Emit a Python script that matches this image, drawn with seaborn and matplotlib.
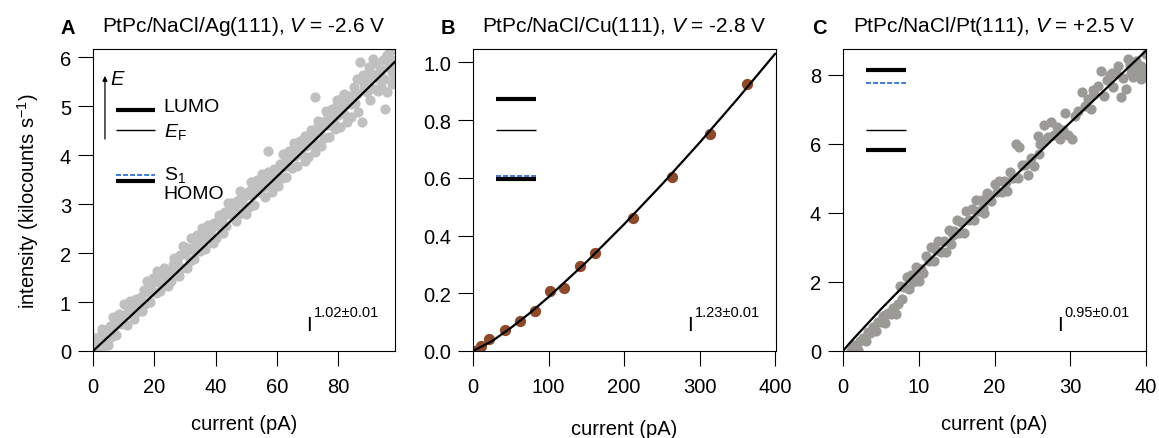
import matplotlib
matplotlib.use("Agg")
import matplotlib.pyplot as plt
import seaborn as sns
import pandas as pd

# ---------------- data ----------------
# Panel A : PtPc/NaCl/Ag(111)
current_A = [
    0.5, 1, 1.5, 2, 2.5, 3, 3, 3.5, 4, 4.5,
    5, 5.5, 6, 6.5, 7, 7.5, 8, 8.5, 9, 9.5,
    10, 10.5, 11, 11.5, 12, 12.5, 13, 13.5, 14, 14.5,
    15, 15.5, 16, 16.5, 17, 17.5, 18, 18.5, 19, 19.5,
    20, 20.5, 21, 21.5, 22, 22.5, 23, 23.5, 24, 24.5,
    25, 25.5, 26, 26.5, 27, 27.5, 28, 28.5, 29, 29.5,
    30, 30.5, 31, 31.5, 32, 32.5, 33, 33.5, 34, 34.5,
    35, 35.5, 36, 36.5, 37, 37.5, 38, 38.5, 39, 39.5,
    40, 40.5, 41, 41.5, 42, 42.5, 43, 43.5, 44, 44.5,
    45, 45.5, 46, 46.5, 47, 47.5, 48, 48.5, 49, 49.5,
    50, 50.5, 51, 51.5, 52, 52.5, 53, 53.5, 54, 54.5,
    55, 55.5, 56, 56.5, 57, 57.2, 57.5, 58, 58.5, 59,
    59.5, 60, 60.5, 61, 61.5, 62, 62.5, 63, 63.5, 64,
    64.5, 65, 65.5, 66, 66.5, 67, 67.5, 68, 68.5, 69,
    69.5, 70, 70.5, 71, 71.5, 72, 72.4, 72.5, 73, 73.5,
    74, 74.5, 75, 75.5, 76, 76.5, 77, 77.5, 78, 78.5,
    79, 79.5, 80, 80.5, 81, 81.5, 82, 82.5, 83, 83.5,
    84, 84.5, 85, 85.5, 86, 86.5, 87.1, 87.6, 88, 88.5,
    89, 89.5, 90, 90.5, 91, 91.4, 92, 92.5, 93, 93.5,
    94, 94.5, 95, 95.2, 95.5, 96, 96.5, 96.9, 97, 97.5,
    98, 98.3,
    82, 84, 86, 88.5, 90, 92, 94, 96, 97.5, 98.5,
    63, 66, 69, 73.5, 76.5, 79.5, 62, 45, 48, 52,
]
intensity_A = [
    0.26, 0.07, 0.20, 0.00, 0.32, 0.11, 0.45, 0.28, 0.13, 0.40,
    0.13, 0.52, 0.28, 0.69, 0.49, 0.32, 0.62, 0.76, 0.55, 0.69,
    0.96, 0.73, 0.54, 0.87, 1.02, 0.78, 0.94, 0.65, 1.07, 0.80,
    0.95, 1.11, 0.82, 1.24, 0.97, 1.43, 1.20, 1.01, 1.34, 1.49,
    1.45, 1.18, 1.64, 1.41, 1.22, 1.55, 1.70, 1.46, 1.62, 1.33,
    1.62, 1.43, 1.76, 1.91, 1.67, 1.83, 1.54, 1.96, 1.69, 2.15,
    1.98, 1.69, 2.11, 1.84, 2.30, 2.07, 1.88, 2.21, 2.36, 2.12,
    2.05, 2.51, 2.28, 2.09, 2.42, 2.57, 2.33, 2.49, 2.20, 2.62,
    2.30, 2.63, 2.78, 2.54, 2.70, 2.41, 2.83, 2.56, 3.02, 2.79,
    3.02, 2.78, 2.94, 2.65, 3.07, 2.80, 3.26, 3.03, 2.84, 3.17,
    2.79, 3.25, 2.95, 3.45, 3.19, 2.98, 3.34, 3.50, 3.24, 3.41,
    3.61, 3.35, 3.14, 3.50, 3.66, 4.09, 3.40, 3.57, 3.25, 3.71,
    3.52, 3.69, 3.37, 3.83, 3.53, 4.03, 3.77, 3.56, 3.92, 4.08,
    4.04, 3.74, 4.24, 3.98, 3.77, 4.13, 4.29, 4.03, 4.20, 3.88,
    4.19, 3.96, 4.35, 4.52, 4.23, 4.42, 5.18, 4.06, 4.56, 4.23,
    4.54, 4.18, 4.68, 4.35, 4.90, 4.61, 4.38, 4.77, 4.94, 4.65,
    4.54, 5.13, 4.83, 4.57, 4.99, 5.18, 4.85, 5.05, 4.67, 5.21,
    4.78, 5.20, 5.39, 5.06, 5.26, 4.88, 5.90, 4.67, 5.64, 5.34,
    5.63, 5.30, 5.50, 5.12, 5.66, 5.97, 5.88, 5.58, 5.32, 5.74,
    5.40, 5.95, 5.55, 4.94, 6.00, 5.30, 5.80, 6.13, 5.95, 5.45,
    5.85, 5.60,
    5.25, 5.05, 5.55, 5.45, 5.80, 5.35, 5.75, 6.05, 5.70, 5.95,
    3.95, 4.15, 4.40, 4.70, 4.80, 5.00, 3.75, 2.95, 3.10, 3.30,
]
fit_A_x = [0, 10, 25, 50, 75, 98.5]
fit_A_y = [0, 0.58, 1.46, 2.96, 4.47, 5.91]

# Panel B : PtPc/NaCl/Cu(111)
current_B = [2, 11, 21, 42, 62, 82, 102, 121, 142, 162, 212, 263, 313, 362]
intensity_B = [0.0, 0.017, 0.043, 0.072, 0.104, 0.138, 0.208, 0.218,
               0.296, 0.340, 0.461, 0.602, 0.752, 0.925]
fit_B_x = [0, 25, 50, 75, 100, 150, 200, 250, 300, 350, 400]
fit_B_y = [0, 0.034, 0.080, 0.131, 0.187, 0.308, 0.439, 0.577, 0.722, 0.873, 1.03]

# Panel C : PtPc/NaCl/Pt(111)
current_C = [
    1.0, 1.2, 1.5, 2.0, 2.3, 2.6, 3.0, 3.3, 3.6, 4.0,
    4.3, 4.6, 5.0, 5.3, 5.6, 6.0, 6.3, 6.6, 7.0, 7.3,
    7.5, 7.8, 8.1, 8.5, 8.7, 9.0, 9.2, 9.6, 10.0, 10.3,
    10.6, 11.0, 11.3, 11.6, 12.0, 12.3, 12.6, 13.0, 13.3, 13.6,
    14.0, 14.3, 14.6, 15.0, 15.3, 15.6, 16.0, 16.3, 16.6, 17.0,
    17.3, 17.6, 18.0, 18.3, 18.6, 19.0, 19.3, 19.6, 20.0, 20.3,
    20.6, 21.0, 21.3, 21.6, 22.0, 22.4, 22.9, 23.1, 23.3, 23.6,
    24.0, 24.4, 24.8, 25.2, 25.7, 25.9, 26.3, 26.6, 27.0, 27.5,
    27.8, 28.2, 28.6, 29.0, 29.3, 29.7, 30.2, 30.6, 31.0, 31.5,
    31.9, 32.3, 32.7, 33.1, 33.6, 34.1, 34.4, 34.8, 35.2, 35.6,
    36.0, 36.3, 36.7, 37.0, 37.6, 37.4, 37.9, 38.3, 38.7, 39.0,
    39.4, 39.4, 39.7, 40.0,
    5.5, 9.5, 14.5, 18.5, 21.5, 26.0, 28.5, 33.0, 35.5, 38.0,
]
intensity_C = [
    0.00, 0.06, 0.18, 0.04, 0.30, 0.37, 0.30, 0.55, 0.53, 0.70,
    0.59, 0.85, 0.84, 1.00, 0.82, 1.10, 1.07, 1.25, 1.07, 1.35,
    1.89, 1.50, 1.86, 2.15, 1.79, 2.21, 2.00, 2.44, 2.03, 2.39,
    2.26, 2.74, 2.61, 3.02, 2.61, 2.93, 3.19, 2.88, 3.19, 2.86,
    3.50, 3.11, 3.48, 3.81, 3.43, 3.74, 3.43, 4.05, 3.81, 4.10,
    3.81, 4.38, 4.07, 4.38, 4.00, 4.58, 4.50, 4.36, 4.85, 4.62,
    4.93, 4.62, 4.93, 4.65, 5.19, 5.02, 6.00, 5.02, 5.90, 5.38,
    5.40, 5.10, 5.60, 5.35, 6.24, 5.70, 6.05, 6.55, 6.20, 6.63,
    6.25, 6.50, 6.15, 6.40, 6.90, 6.25, 6.14, 6.80, 6.95, 7.50,
    7.10, 7.30, 7.00, 7.45, 7.69, 8.10, 7.40, 7.85, 8.00, 7.65,
    8.05, 8.27, 7.35, 7.90, 8.46, 7.60, 8.30, 7.95, 8.40, 8.15,
    7.88, 8.27, 8.12, 8.60,
    1.05, 2.20, 3.35, 4.15, 4.90, 6.00, 6.35, 7.55, 8.05, 8.05,
]
fit_C_x = [0, 1, 5, 10, 20, 30, 40]
fit_C_y = [0, 0.26, 1.21, 2.33, 4.50, 6.62, 8.70]

# energy level diagrams (in data units of each panel): LUMO, E_F, S1, HOMO
level_names = ["LUMO", "EF", "S1", "HOMO"]
levels_A = [4.93, 4.52, 3.60, 3.48]
levels_B = [0.872, 0.767, 0.607, 0.596]
levels_C = [8.15, 6.41, 7.76, 5.83]

titles = [r"PtPc/NaCl/Ag(111), $V$ = -2.6 V",
          r"PtPc/NaCl/Cu(111), $V$ = -2.8 V",
          r"PtPc/NaCl/Pt(111), $V$ = +2.5 V"]
panel_letters = ["A", "B", "C"]
exponents = ["1.02±0.01", "1.23±0.01", "0.95±0.01"]

# ---------------- style ----------------
sns.set_style("ticks")
plt.rcParams['font.family'] = ['Liberation Sans', 'DejaVu Sans']
plt.rcParams['mathtext.fontset'] = 'custom'
plt.rcParams['mathtext.rm'] = 'Liberation Sans'
plt.rcParams['mathtext.it'] = 'Liberation Sans:italic'
plt.rcParams['mathtext.bf'] = 'Liberation Sans:bold'
plt.rcParams['axes.unicode_minus'] = True
for key in ['text.color', 'axes.labelcolor', 'xtick.color', 'ytick.color',
            'axes.edgecolor']:
    plt.rcParams[key] = 'black'

W, H = 1159, 439
fig = plt.figure(figsize=(W / 100, H / 100), dpi=100)


def rect(l, r, t=50, b=352):
    return [l / W, 1 - b / H, (r - l) / W, (b - t) / H]


axA = fig.add_axes(rect(93, 395))
axB = fig.add_axes(rect(473, 776))
axC = fig.add_axes(rect(843, 1146))
axes = [axA, axB, axC]

dfA = pd.DataFrame({"current": current_A, "intensity": intensity_A})
dfB = pd.DataFrame({"current": current_B, "intensity": intensity_B})
dfC = pd.DataFrame({"current": current_C, "intensity": intensity_C})

sns.scatterplot(data=dfA, x="current", y="intensity", ax=axA, color="#C0C0C0",
                s=54, linewidth=0, zorder=2)
sns.scatterplot(data=dfB, x="current", y="intensity", ax=axB, color="#8C4A2B",
                s=66, linewidth=0, zorder=2)
sns.scatterplot(data=dfC, x="current", y="intensity", ax=axC, color="#9B9A96",
                s=54, linewidth=0, zorder=2)

for ax, fx, fy in [(axA, fit_A_x, fit_A_y), (axB, fit_B_x, fit_B_y), (axC, fit_C_x, fit_C_y)]:
    sns.lineplot(x=fx, y=fy, ax=ax, color="black", linewidth=1.6, sort=False,
                 estimator=None, zorder=3)

# limits and ticks
axA.set_xlim(0, 98.5); axA.set_ylim(0, 6.17)
axA.set_xticks([0, 20, 40, 60, 80]); axA.set_yticks([0, 1, 2, 3, 4, 5, 6])
axB.set_xlim(0, 401); axB.set_ylim(0, 1.046)
axB.set_xticks([0, 100, 200, 300, 400]); axB.set_yticks([0, 0.2, 0.4, 0.6, 0.8, 1.0])
axB.set_yticklabels(["0.0", "0.2", "0.4", "0.6", "0.8", "1.0"])
axC.set_xlim(0, 40); axC.set_ylim(0, 8.75)
axC.set_xticks([0, 10, 20, 30, 40]); axC.set_yticks([0, 2, 4, 6, 8])

xlabel_y = [-0.207, -0.225, -0.207]
for i, ax in enumerate(axes):
    for sp in ax.spines.values():
        sp.set_visible(True)
        sp.set_linewidth(0.8)
        sp.set_color("black")
    ax.tick_params(axis="both", direction="out", length=10.8, width=0.8,
                   colors="black", labelsize=14.5)
    ax.tick_params(axis="x", pad=8)
    ax.tick_params(axis="y", pad=5)
    ax.set_xlabel("current (pA)", fontsize=14.5)
    ax.xaxis.set_label_coords(0.5, xlabel_y[i])
    ax.xaxis.label.set_va("top")
    ax.set_ylabel("")
    ax.set_title(titles[i], fontsize=15, pad=13)
    ax.text(0.706, 0.0695, "I", transform=ax.transAxes, fontsize=15,
            ha="left", va="baseline")
    ax.text(0.731, 0.117, exponents[i], transform=ax.transAxes, fontsize=10.5,
            ha="left", va="baseline")

axA.set_ylabel("intensity (kilocounts s$^{-1}$)", fontsize=14.5)
axA.yaxis.set_label_coords(-0.172, 0.5)

# panel letters
for letter, xpx in zip(panel_letters, [67.5, 448, 819]):
    fig.text(xpx / W, 1 - 28 / H, letter, fontsize=14.5, fontweight="bold",
             ha="center", va="center")

# energy level diagrams
level_style = {
    "LUMO": dict(color="black", lw=3.0, solid_capstyle="butt"),
    "HOMO": dict(color="black", lw=3.0, solid_capstyle="butt"),
    "EF": dict(color="black", lw=1.0, solid_capstyle="butt"),
    "S1": dict(color="#2F6FD0", lw=1.3, dashes=(2.8, 1.1)),
}
draw_order = ["LUMO", "EF", "HOMO", "S1"]
for ax, levels, (x0, x1) in [(axA, levels_A, (7.4, 20.2)),
                             (axB, levels_B, (30, 83)),
                             (axC, levels_C, (3.0, 8.3))]:
    lv = dict(zip(level_names, levels))
    for name in draw_order:
        ax.plot([x0, x1], [lv[name], lv[name]], zorder=4, **level_style[name])

# labels for the diagram in panel A
lvA = dict(zip(level_names, levels_A))
axA.annotate("", xy=(3.9, 5.62), xytext=(3.9, 4.33),
             arrowprops=dict(arrowstyle="-|>", lw=0.9, color="black",
                             mutation_scale=7, shrinkA=0, shrinkB=0))
axA.text(5.6, 5.45, "$E$", fontsize=14.5, ha="left", va="baseline")
axA.text(23.0, lvA["LUMO"] + 0.07, "LUMO", fontsize=14, ha="left", va="center")
axA.text(23.0, lvA["EF"] - 0.03, r"$E_{\mathrm{F}}$", fontsize=14, ha="left", va="center")
axA.text(23.0, lvA["S1"] + 0.02, r"S$_{1}$", fontsize=14, ha="left", va="center")
axA.text(23.0, lvA["HOMO"] - 0.27, "HOMO", fontsize=14, ha="left", va="center")

fig.savefig("out.png", dpi=100)
